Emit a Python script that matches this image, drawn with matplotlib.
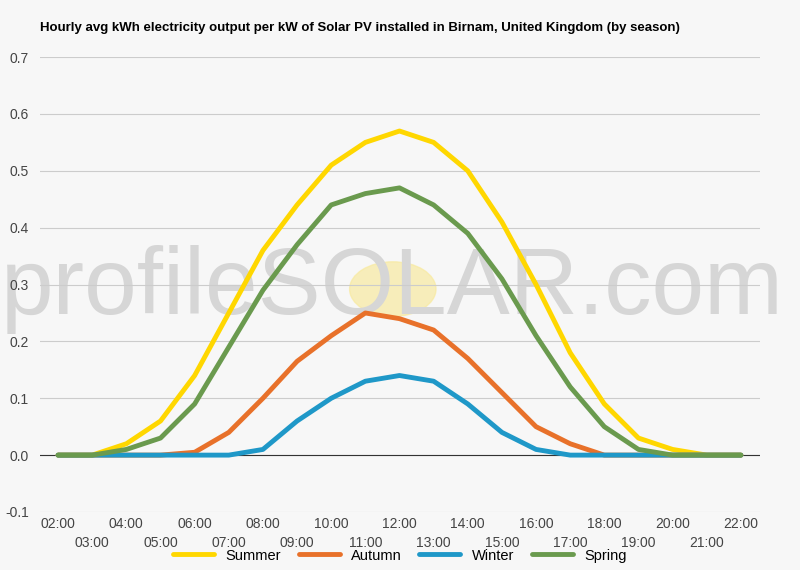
import matplotlib.pyplot as plt
from matplotlib.patches import Circle

plt.rcParams["font.family"] = "Liberation Sans"

hours = list(range(2, 23))
summer = [0, 0, 0.02, 0.06, 0.14, 0.25, 0.36, 0.44, 0.51, 0.55, 0.57, 0.55, 0.50, 0.41, 0.30, 0.18, 0.09, 0.03, 0.01, 0, 0]
autumn = [0, 0, 0, 0, 0.005, 0.04, 0.10, 0.165, 0.21, 0.25, 0.24, 0.22, 0.17, 0.11, 0.05, 0.02, 0, 0, 0, 0, 0]
winter = [0, 0, 0, 0, 0, 0, 0.01, 0.06, 0.10, 0.13, 0.14, 0.13, 0.09, 0.04, 0.01, 0, 0, 0, 0, 0, 0]
spring = [0, 0, 0.01, 0.03, 0.09, 0.19, 0.29, 0.37, 0.44, 0.46, 0.47, 0.44, 0.39, 0.31, 0.21, 0.12, 0.05, 0.01, 0, 0, 0]
series = [("Summer", summer, "#ffd700"), ("Autumn", autumn, "#e8712a"),
          ("Winter", winter, "#1f98c8"), ("Spring", spring, "#6a9a4e")]
yticks = [-0.1, 0.0, 0.1, 0.2, 0.3, 0.4, 0.5, 0.6, 0.7]

fig = plt.figure(figsize=(8, 5.7), dpi=100, facecolor="#f7f7f7")
ax = fig.add_axes([0.05, 0.1018, 0.9, 0.798], facecolor="#f7f7f7")

# watermark
ax.add_patch(Circle((0.49, 0.49), 0.06, transform=ax.transAxes,
                    color="#f8eaa0", alpha=0.7, zorder=0))
ax.text(0.49, 0.49, "profileSOLAR.com", transform=ax.transAxes, fontsize=68,
        color="#d6d6d6", ha="center", va="center", zorder=0)

for name, vals, col in series:
    ax.plot(hours, vals, color=col, lw=3.5, label=name, solid_joinstyle="round",
            solid_capstyle="round", zorder=3)

ax.set_xlim(1.47, 22.56)
ax.set_ylim(-0.1, 0.7)
ax.set_yticks(yticks)
ax.set_yticklabels([f"{v:.1f}" for v in yticks])
ax.yaxis.grid(True, color="#cccccc", lw=0.8)
ax.axhline(0, color="#333333", lw=0.8, zorder=2)
ax.set_xticks(hours[::2])
ax.set_xticklabels([f"{h:02d}:00" for h in hours[::2]])
ax.set_xticks(hours[1::2], minor=True)
ax.set_xticklabels([f"{h:02d}:00" for h in hours[1::2]], minor=True)
ax.tick_params(which="both", length=0, labelsize=10, colors="#444444")
ax.tick_params(axis="x", which="minor", pad=17)
ax.tick_params(axis="y", pad=8)
for s in ax.spines.values():
    s.set_visible(False)

fig.text(0.05, 0.95, "Hourly avg kWh electricity output per kW of Solar PV installed in Birnam, United Kingdom (by season)",
         fontsize=9.5, fontweight="bold", va="center")
fig.legend(loc="lower center", ncol=4, frameon=False, bbox_to_anchor=(0.5, -0.01),
           fontsize=10.5, handlelength=2.8, columnspacing=1.2)
fig.savefig("out.png", dpi=100, facecolor=fig.get_facecolor())
